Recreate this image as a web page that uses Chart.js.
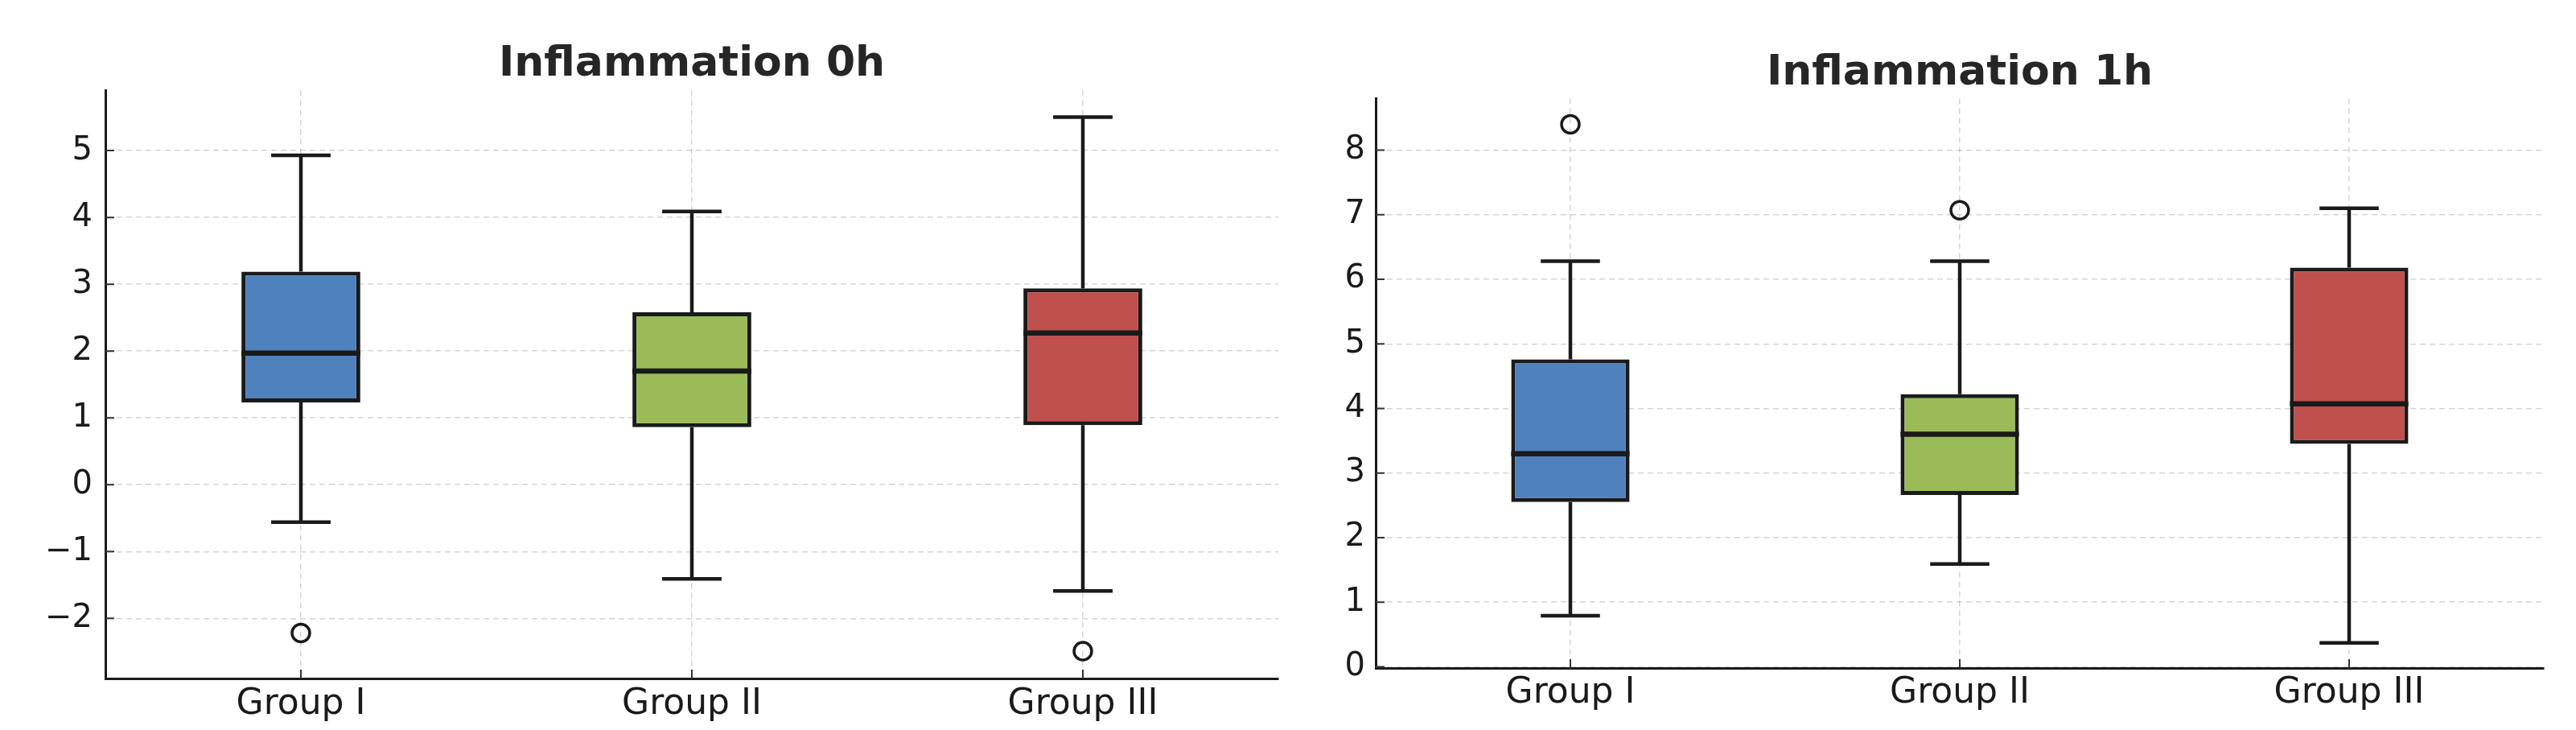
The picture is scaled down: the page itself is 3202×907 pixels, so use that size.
<!DOCTYPE html>
<html>
<head>
<meta charset="utf-8">
<script src="https://cdn.jsdelivr.net/npm/chart.js@4.4.1/dist/chart.umd.min.js"></script>
<style>
  html, body { margin: 0; padding: 0; background: #ffffff; overflow: hidden; }
  .panel { position: absolute; top: 0; height: 907px; }
  /* each canvas is centred on its plot area so the title lands over the plot */
  #left { left: 0; width: 1720px; }
  #right { left: 1660px; width: 1552px; }
</style>
</head>
<body>
<div class="panel" id="left"><canvas id="Chart0h"></canvas></div>
<div class="panel" id="right"><canvas id="Chart1h"></canvas></div>
<script>
// groups and box colours
const groups = ['Group I', 'Group II', 'Group III'];
const boxColors = ['#4F81BD', '#9BBB59', '#C0504D'];

// Inflammation 0h
const h0Low  = [-0.56, -1.41, -1.59];
const h0Q1   = [1.23, 0.86, 0.89];
const h0Med  = [1.97, 1.70, 2.27];
const h0Q3   = [3.19, 2.58, 2.94];
const h0High = [4.93, 4.09, 5.50];
const h0Out  = [-2.22, null, -2.49];

// Inflammation 1h
const h1Low  = [0.79, 1.59, 0.37];
const h1Q1   = [2.55, 2.66, 3.45];
const h1Med  = [3.30, 3.60, 4.07];
const h1Q3   = [4.76, 4.22, 6.18];
const h1High = [6.28, 6.28, 7.10];
const h1Out  = [8.40, 7.07, null];

const ink = '#1a1a1a';
const gridColor = 'rgba(0,0,0,0.17)';

// whiskers, caps, medians and the little inward tick marks
const boxPlugin = {
    id: 'boxParts',
    afterDatasetsDraw(chart) {
        const ctx = chart.ctx;
        const x = chart.scales.x;
        const y = chart.scales.y;
        const ds = chart.data.datasets[0];
        const meta = chart.getDatasetMeta(0);
        ctx.save();
        ctx.strokeStyle = ink;
        ctx.lineCap = 'butt';
        for (let i = 0; i < ds.med.length; i++) {
            let cx = x.getPixelForValue(i);
            let w = meta.data[i].width;
            // whiskers
            ctx.lineWidth = 4.5;
            ctx.beginPath();
            ctx.moveTo(cx, y.getPixelForValue(ds.low[i]));
            ctx.lineTo(cx, y.getPixelForValue(ds.data[i][0]));
            ctx.moveTo(cx, y.getPixelForValue(ds.data[i][1]));
            ctx.lineTo(cx, y.getPixelForValue(ds.high[i]));
            ctx.stroke();
            // caps
            ctx.beginPath();
            ctx.moveTo(cx - w / 4, y.getPixelForValue(ds.low[i]));
            ctx.lineTo(cx + w / 4, y.getPixelForValue(ds.low[i]));
            ctx.moveTo(cx - w / 4, y.getPixelForValue(ds.high[i]));
            ctx.lineTo(cx + w / 4, y.getPixelForValue(ds.high[i]));
            ctx.stroke();
            // median
            ctx.lineWidth = 6.5;
            ctx.beginPath();
            ctx.moveTo(cx - w / 2, y.getPixelForValue(ds.med[i]));
            ctx.lineTo(cx + w / 2, y.getPixelForValue(ds.med[i]));
            ctx.stroke();
        }
        ctx.restore();
    },
    afterDraw(chart) {
        const ctx = chart.ctx;
        const x = chart.scales.x;
        const y = chart.scales.y;
        const area = chart.chartArea;
        ctx.save();
        ctx.strokeStyle = '#333333';
        ctx.lineWidth = 2;
        ctx.beginPath();
        y.ticks.forEach(t => {
            let py = y.getPixelForValue(t.value);
            ctx.moveTo(area.left, py);
            ctx.lineTo(area.left + 11, py);
        });
        x.ticks.forEach((t, i) => {
            let px = x.getPixelForValue(i);
            ctx.moveTo(px, area.bottom);
            ctx.lineTo(px, area.bottom - 11);
        });
        ctx.stroke();
        ctx.restore();
    }
};

function makeChart(canvasId, title, low, q1, med, q3, high, out, yMin, yMax, lay) {
    const boxes = q1.map((v, i) => [v, q3[i]]);
    return new Chart(document.getElementById(canvasId), {
        type: 'bar',
        data: {
            labels: groups,
            datasets: [{
                label: 'box',
                data: boxes,
                low: low,
                high: high,
                med: med,
                backgroundColor: boxColors,
                borderColor: ink,
                borderWidth: 5,
                borderSkipped: false,
                categoryPercentage: 1.0,
                barPercentage: 0.304,
                order: 2
            },
            {
                label: 'outliers',
                type: 'line',
                data: out,
                showLine: false,
                pointStyle: 'circle',
                pointRadius: 11,
                pointBorderWidth: 3.5,
                pointBorderColor: ink,
                pointBackgroundColor: 'rgba(0,0,0,0)',
                order: 1
            }]
        },
        options: {
            responsive: true,
            maintainAspectRatio: false,
            animation: false,
            devicePixelRatio: 1,
            layout: {
                padding: 0
            },
            scales: {
                x: {
                    offset: true,
                    grid: {
                        display: true,
                        offset: false,
                        drawTicks: false,
                        color: gridColor,
                        lineWidth: 1.5
                    },
                    border: { display: true, color: ink, width: 3, dash: [7, 5] },
                    ticks: {
                        color: ink,
                        padding: lay.xPad,
                        font: { family: 'DejaVu Sans', size: 44 }
                    },
                    afterFit: function (scale) { scale.height = lay.xHeight; }
                },
                y: {
                    min: yMin,
                    max: yMax,
                    grid: {
                        drawTicks: false,
                        color: gridColor,
                        lineWidth: 1.5
                    },
                    border: { display: true, color: ink, width: 3, dash: [7, 5] },
                    ticks: {
                        stepSize: 1,
                        includeBounds: false,
                        color: ink,
                        padding: lay.yPad,
                        font: { family: 'DejaVu Sans', size: 40 },
                        callback: function (value) {
                            return String(value).replace('-', '\u2212');
                        }
                    },
                    afterFit: function (scale) { scale.width = lay.yWidth; }
                },
                // empty axis on the right, only there to hold the plot's right margin
                spacer: {
                    type: 'linear',
                    position: 'right',
                    grid: { display: false, drawTicks: false },
                    border: { display: false },
                    ticks: { display: false },
                    afterFit: function (scale) { scale.width = lay.right; }
                }
            },
            plugins: {
                legend: { display: false },
                tooltip: { enabled: false },
                title: {
                    display: true,
                    text: title,
                    color: '#262626',
                    font: { family: 'DejaVu Sans', size: 52, weight: 'bold' },
                    padding: { top: lay.titleTop, bottom: lay.titleBottom }
                }
            }
        },
        plugins: [boxPlugin]
    });
}

let chart0 = makeChart('Chart0h', 'Inflammation 0h', h0Low, h0Q1, h0Med, h0Q3, h0High, h0Out, -2.9, 5.9,
    { right: 131, xHeight: 64, xPad: 6, yWidth: 131, yPad: 16, titleTop: 49, titleBottom: 1 });

let chart1 = makeChart('Chart1h', 'Inflammation 1h', h1Low, h1Q1, h1Med, h1Q3, h1High, h1Out, -0.02, 8.8,
    { right: 50, xHeight: 77, xPad: 5, yWidth: 50, yPad: 13, titleTop: 60, titleBottom: 0 });
</script>
</body>
</html>
